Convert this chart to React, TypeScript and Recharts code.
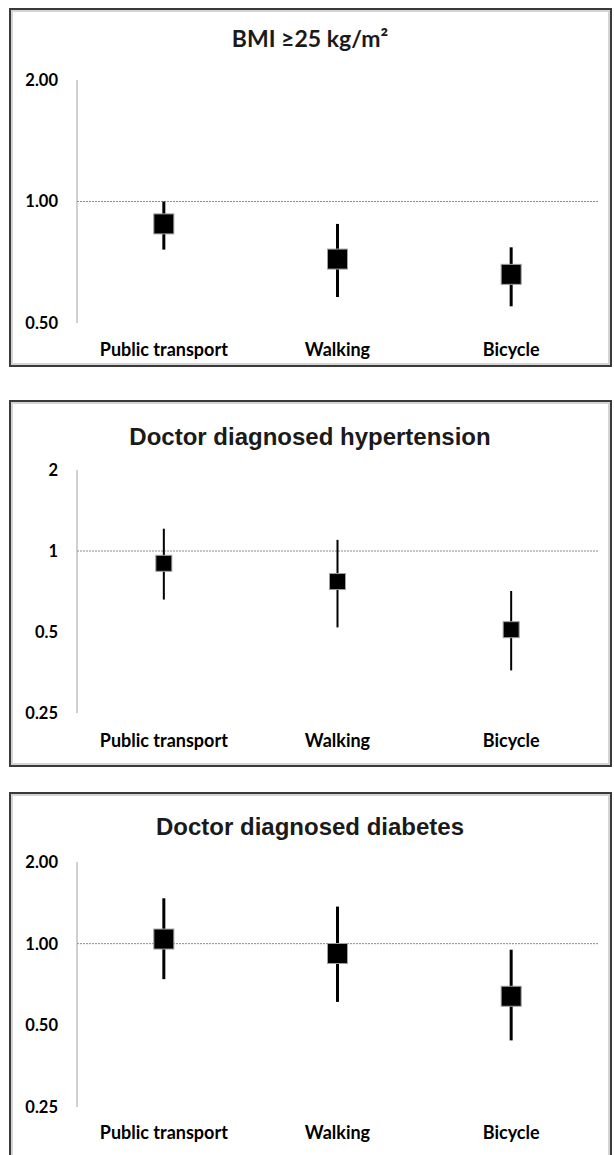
import { ComposedChart, Scatter, ErrorBar, XAxis, YAxis, ReferenceLine } from 'recharts';

const categories = ['Public transport', 'Walking', 'Bicycle'];

// BMI >= 25 kg/m2
const bmiOr = [0.88, 0.72, 0.66];
const bmiLow = [0.76, 0.58, 0.55];
const bmiHigh = [1.0, 0.88, 0.77];

// doctor diagnosed hypertension
const htnOr = [0.9, 0.77, 0.51];
const htnLow = [0.66, 0.52, 0.36];
const htnHigh = [1.21, 1.1, 0.71];

// doctor diagnosed diabetes
const dmOr = [1.04, 0.92, 0.64];
const dmLow = [0.74, 0.61, 0.44];
const dmHigh = [1.47, 1.37, 0.95];

const bmiTicks = [0.5, 1, 2];
const quarterTicks = [0.25, 0.5, 1, 2];

const toRows = (or: number[], low: number[], high: number[]) =>
  categories.map((name, i) => ({ name, or: or[i], err: [or[i] - low[i], high[i] - or[i]] }));

const xFont = { fontFamily: 'Lato', fontWeight: 700, fontSize: 18, fill: '#000' };
const yFont = { fontFamily: 'Lato', fontWeight: 700, fontSize: 16.5, fill: '#000' };

type PanelProps = {
  title: string;
  titleFont: string;
  titleSize: number;
  titleY: number;
  rows: { name: string; or: number; err: number[] }[];
  ticks: number[];
  fmt: (v: number) => string;
  chartTop: number;
  plotTop: number;
  plotBottom: number;
  frameTop: number;
  frameHeight: number;
  marker: number;
  whisker: number;
  labelGap: number;
};

function Panel(p: PanelProps) {
  const H = 380;
  const square = (props: any) => (
    <rect
      x={props.cx - p.marker / 2}
      y={props.cy - p.marker / 2}
      width={p.marker}
      height={p.marker}
      fill="#000"
      stroke="#a0a0a0"
      strokeWidth={1}
    />
  );
  return (
    <>
      <div
        style={{
          position: 'absolute',
          left: 9,
          top: p.frameTop,
          width: 603,
          height: p.frameHeight,
          boxSizing: 'border-box',
          border: '2px solid #3a3a3a',
          boxShadow: 'inset 0 0 0 2px #d4d4d4',
        }}
      />
      <svg style={{ position: 'absolute', left: 0, top: 0 }} width={614} height={1155}>
        <text
          x={310}
          y={p.titleY}
          textAnchor="middle"
          fontFamily={p.titleFont}
          fontWeight={700}
          fontSize={p.titleSize}
          fill="#1a1a1a"
        >
          {p.title}
        </text>
      </svg>
      <div style={{ position: 'absolute', left: 0, top: p.chartTop }}>
        <ComposedChart
          width={614}
          height={H}
          data={p.rows}
          margin={{ top: p.plotTop - p.chartTop, right: 16, bottom: p.chartTop + H - p.plotBottom - 40, left: 0 }}
        >
          <XAxis
            dataKey="name"
            type="category"
            scale="band"
            height={40}
            axisLine={false}
            tickLine={false}
            tickSize={0}
            tickMargin={p.labelGap}
            tick={xFont}
            interval={0}
          />
          <YAxis
            scale="log"
            type="number"
            domain={[p.ticks[0], p.ticks[p.ticks.length - 1]]}
            ticks={p.ticks}
            allowDataOverflow
            width={77}
            axisLine={{ stroke: '#a0a0a0', strokeWidth: 1 }}
            tickLine={false}
            tickSize={0}
            tickMargin={19}
            tick={yFont}
            tickFormatter={p.fmt}
          />
          <ReferenceLine y={1} stroke="#8a8a8a" strokeDasharray="2 1" />
          <Scatter dataKey="or" shape={square} isAnimationActive={false}>
            <ErrorBar dataKey="err" direction="y" width={0} stroke="#000" strokeWidth={p.whisker} />
          </Scatter>
        </ComposedChart>
      </div>
    </>
  );
}

export default function App() {
  const two = (v: number) => v.toFixed(2);
  return (
    <div style={{ position: 'absolute', left: 0, top: 0, width: 614, height: 1155, overflow: 'hidden', background: '#fff' }}>
      <Panel
        title="BMI ≥25 kg/m²"
        titleFont="Lato"
        titleSize={23}
        titleY={47}
        rows={toRows(bmiOr, bmiLow, bmiHigh)}
        ticks={bmiTicks}
        fmt={two}
        chartTop={0}
        plotTop={80}
        plotBottom={323}
        frameTop={8}
        frameHeight={359}
        marker={20}
        whisker={3}
        labelGap={20}
      />
      <Panel
        title="Doctor diagnosed hypertension"
        titleFont="Liberation Sans"
        titleSize={24}
        titleY={445}
        rows={toRows(htnOr, htnLow, htnHigh)}
        ticks={quarterTicks}
        fmt={(v) => String(v)}
        chartTop={390}
        plotTop={470}
        plotBottom={713}
        frameTop={400}
        frameHeight={367}
        marker={16}
        whisker={2}
        labelGap={21}
      />
      <Panel
        title="Doctor diagnosed diabetes"
        titleFont="Liberation Sans"
        titleSize={24}
        titleY={835}
        rows={toRows(dmOr, dmLow, dmHigh)}
        ticks={quarterTicks}
        fmt={two}
        chartTop={780}
        plotTop={862}
        plotBottom={1107}
        frameTop={792}
        frameHeight={400}
        marker={20}
        whisker={3}
        labelGap={19}
      />
    </div>
  );
}
